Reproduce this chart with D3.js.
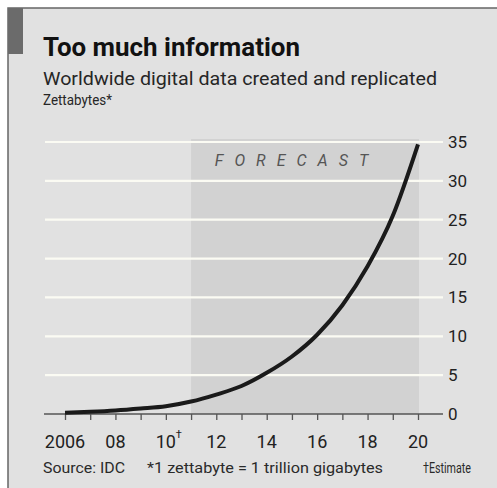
<!DOCTYPE html>
<html>
<head>
<meta charset="utf-8">
<script src="https://cdn.jsdelivr.net/npm/d3@7"></script>
<style>
  body { margin: 0; background: #fff; }
  svg { display: block; font-family: Roboto, "Noto Sans", sans-serif; }
</style>
</head>
<body>
<div id="chart"></div>
<script>
// data (zettabytes per year)
const years = [2006, 2007, 2008, 2009, 2010, 2011, 2012, 2013, 2014, 2015, 2016, 2017, 2018, 2019, 2020];
const zettabytes = [0.16, 0.28, 0.45, 0.7, 1.0, 1.6, 2.5, 3.6, 5.3, 7.4, 10.2, 14, 19, 25.5, 34.7];
const yTicks = [0, 5, 10, 15, 20, 25, 30, 35];
const xLabelYears = [2006, 2008, 2010, 2012, 2014, 2016, 2018, 2020];
const xLabels = ['2006', '08', '10', '12', '14', '16', '18', '20'];
const forecastRange = [2011, 2020];

const W = 497, H = 488;
const svg = d3.select('#chart').append('svg')
  .attr('width', W).attr('height', H);

// frame
svg.append('rect').attr('x', 8).attr('y', 8).attr('width', W).attr('height', H)
  .attr('fill', '#e1e1e1');
svg.append('path').attr('d', `M8,${H} V8 H${W}`)
  .attr('fill', 'none').attr('stroke', '#666').attr('stroke-width', 1.5);
svg.append('rect').attr('x', 8).attr('y', 8).attr('width', 15).attr('height', 46)
  .attr('fill', '#6b6b6b');

// titles
svg.append('text').attr('x', 43).attr('y', 56)
  .attr('font-size', 25).attr('font-weight', 'bold').attr('fill', '#111')
  .attr('textLength', 257).attr('lengthAdjust', 'spacingAndGlyphs')
  .text('Too much information');
svg.append('text').attr('x', 43).attr('y', 85)
  .attr('font-size', 17.5).attr('fill', '#262626')
  .attr('textLength', 394).attr('lengthAdjust', 'spacingAndGlyphs')
  .text('Worldwide digital data created and replicated');
svg.append('text').attr('x', 43).attr('y', 105)
  .attr('font-size', 15).attr('fill', '#262626')
  .attr('textLength', 69).attr('lengthAdjust', 'spacingAndGlyphs')
  .text('Zettabytes*');

// scales
const x = d3.scaleLinear().domain([2006, 2020]).range([65, 418]);
const y = d3.scaleLinear().domain([0, 35]).range([414, 142]);

// forecast shading
svg.append('rect')
  .attr('x', x(forecastRange[0])).attr('y', y(35) - 3)
  .attr('width', x(forecastRange[1]) - x(forecastRange[0]) + 1)
  .attr('height', y(0) - y(35) + 3)
  .attr('fill', '#d2d2d2');

svg.append('text').attr('x', 297).attr('y', 166)
  .attr('text-anchor', 'middle').attr('font-size', 16).attr('font-style', 'italic')
  .attr('fill', '#555').attr('letter-spacing', 11)
  .text('FORECAST');

// gridlines
svg.append('g').selectAll('line')
  .data(yTicks.filter(d => d > 0))
  .join('line')
  .attr('x1', 45).attr('x2', 443)
  .attr('y1', d => y(d)).attr('y2', d => y(d))
  .attr('stroke', '#fbfbf3').attr('stroke-width', 2.2);

// right axis labels
svg.append('g').selectAll('text')
  .data(yTicks)
  .join('text')
  .attr('x', 448).attr('y', d => y(d) + 6)
  .attr('font-size', 17).attr('fill', '#222')
  .text(d => d);

// x axis
const xAxis = d3.axisBottom(x).tickValues(years).tickSize(6).tickFormat('');
const gx = svg.append('g').attr('transform', `translate(0,${y(0)})`).call(xAxis);
gx.select('.domain').remove();
gx.selectAll('.tick line').attr('stroke', '#555').attr('stroke-width', 1.3);
svg.append('line').attr('x1', 44).attr('x2', 443).attr('y1', y(0)).attr('y2', y(0))
  .attr('stroke', '#555').attr('stroke-width', 1.5);

svg.append('g').selectAll('text')
  .data(xLabelYears)
  .join('text')
  .attr('x', d => x(d)).attr('y', 448)
  .attr('text-anchor', 'middle').attr('font-size', 18).attr('fill', '#222')
  .text((d, i) => xLabels[i]);
svg.append('text').attr('x', x(2010) + 10).attr('y', 438)
  .attr('font-size', 11).attr('fill', '#222').text('†');

// line
const line = d3.line()
  .x((d, i) => x(years[i]))
  .y(d => y(d))
  .curve(d3.curveMonotoneX);
svg.append('path').datum(zettabytes)
  .attr('d', line)
  .attr('fill', 'none').attr('stroke', '#1a1a1a').attr('stroke-width', 4)
  .attr('stroke-linecap', 'butt');

// footer
svg.append('text').attr('x', 43).attr('y', 473)
  .attr('font-size', 15).attr('fill', '#2a2a2a')
  .attr('textLength', 82).attr('lengthAdjust', 'spacingAndGlyphs')
  .text('Source: IDC');
svg.append('text').attr('x', 147).attr('y', 473)
  .attr('font-size', 15).attr('fill', '#2a2a2a')
  .attr('textLength', 236).attr('lengthAdjust', 'spacingAndGlyphs')
  .text('*1 zettabyte = 1 trillion gigabytes');
svg.append('text').attr('x', 423).attr('y', 473)
  .attr('font-size', 15).attr('fill', '#2a2a2a')
  .attr('textLength', 48).attr('lengthAdjust', 'spacingAndGlyphs')
  .text('†Estimate');
</script>
</body>
</html>
